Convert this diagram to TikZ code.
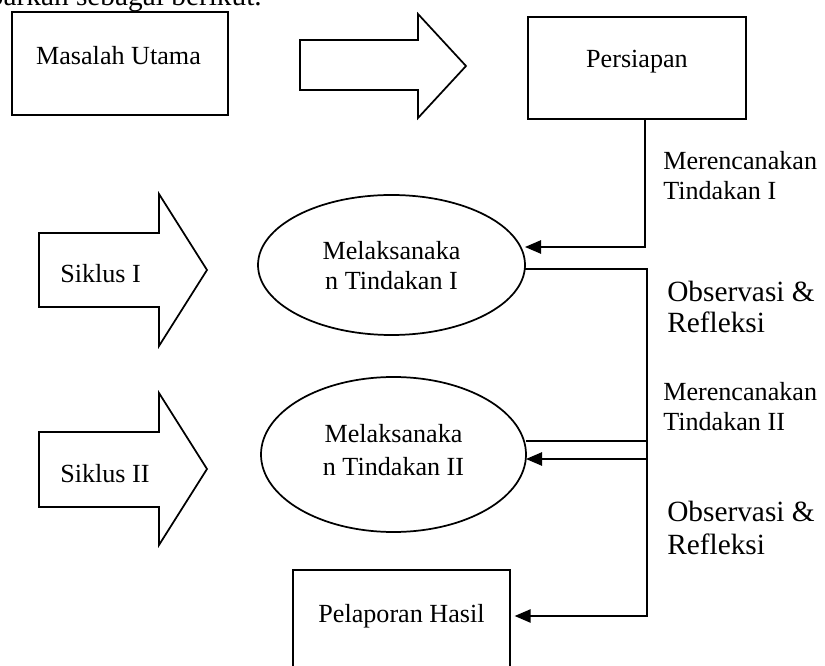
\documentclass[tikz,border=0pt]{standalone}
\usepackage{fontspec}
\setmainfont{Liberation Serif}
\usetikzlibrary{shapes.geometric,arrows.meta}
\tikzset{
  shapeline/.style={draw, line width=1.3pt, line join=miter},
  box/.style={draw, line width=1.3pt, rectangle, inner sep=0pt, outer sep=0pt},
  oval/.style={draw, line width=1.3pt, ellipse, inner sep=0pt, outer sep=0pt},
  conn/.style={line width=1.1pt},
  arr/.style={conn, -{Triangle[length=12pt,width=10pt]}},
  txt/.style={font=\fontsize{19.6}{23}\selectfont, inner sep=0pt, anchor=base},
  lbl/.style={font=\fontsize{19.6}{23}\selectfont, inner sep=0pt, anchor=base west},
  biglbl/.style={font=\fontsize{22}{26}\selectfont, inner sep=0pt, anchor=base west},
}
\begin{document}
\begin{tikzpicture}[x=0.75pt,y=-0.75pt]
\useasboundingbox (0,0) rectangle (825,666);
\clip (0,0) rectangle (825,666);

% partially visible introductory line
\node[font=\fontsize{22}{26}\selectfont, inner sep=0pt, anchor=base east] (intro) at (262,6) {barkan sebagai berikut.};

% boxes
\node[box, minimum width={216*0.75pt}, minimum height={103*0.75pt}] (masalah) at (120,63.5) {};
\node[txt] (masalahT) at (118.5,65) {Masalah Utama};
\node[box, minimum width={218*0.75pt}, minimum height={102*0.75pt}] (persiapan) at (637,68) {};
\node[txt] (persiapanT) at (637,68) {Persiapan};
\node[box, minimum width={217*0.75pt}, minimum height={120*0.75pt}] (pelaporan) at (401.5,630) {};
\node[txt] (pelaporanT) at (401.5,622) {Pelaporan Hasil};

% ellipses
\node[oval, minimum width={267*0.75pt}, minimum height={140*0.75pt}] (e1) at (391.5,265) {};
\node[txt] (e1a) at (391.5,260) {Melaksanaka};
\node[txt] (e1b) at (391.5,290) {n Tindakan I};
\node[oval, minimum width={265*0.75pt}, minimum height={155*0.75pt}] (e2) at (393.5,454.5) {};
\node[txt] (e2a) at (393.5,443) {Melaksanaka};
\node[txt] (e2b) at (393.5,475) {n Tindakan II};

% block arrows
\draw[shapeline] (300,40) -- (418,40) -- (418,14) -- (466,66) -- (418,118) -- (418,90) -- (300,90) -- cycle;
\draw[shapeline] (39,233) -- (159,233) -- (159,194) -- (207,270) -- (159,346) -- (159,307) -- (39,307) -- cycle;
\node[lbl] (siklus1) at (60,283) {Siklus I};
\draw[shapeline] (39,432) -- (159,432) -- (159,393) -- (207,469) -- (159,545) -- (159,507) -- (39,507) -- cycle;
\node[lbl] (siklus2) at (60,483) {Siklus II};

% labels on the right
\node[lbl] (mt1a) at (663,170) {Merencanakan};
\node[lbl] (mt1b) at (663,200) {Tindakan I};
\node[biglbl] (or1a) at (667,302) {Observasi \&};
\node[biglbl] (or1b) at (667,333) {Refleksi};
\node[lbl] (mt2a) at (663,401) {Merencanakan};
\node[lbl] (mt2b) at (663,431) {Tindakan II};
\node[biglbl] (or2a) at (667,522) {Observasi \&};
\node[biglbl] (or2b) at (667,554) {Refleksi};

% connectors
\coordinate (j1) at (645,247);
\coordinate (j2) at (647,269);
\coordinate (j3a) at (647,441);
\coordinate (j3b) at (647,459);
\coordinate (j4) at (647,616);
\draw[arr] (persiapan.south -| j1) -- (j1) -- (e1.east |- j1);
\draw[arr, shorten >=3.5pt] (e1.east |- j2) -- (j2) -- (j4) -- (pelaporan.east |- j4);
\draw[conn] (e2.east |- j3a) -- (j3a);
\draw[arr] (j3b) -- (e2.east |- j3b);
\end{tikzpicture}
\end{document}
